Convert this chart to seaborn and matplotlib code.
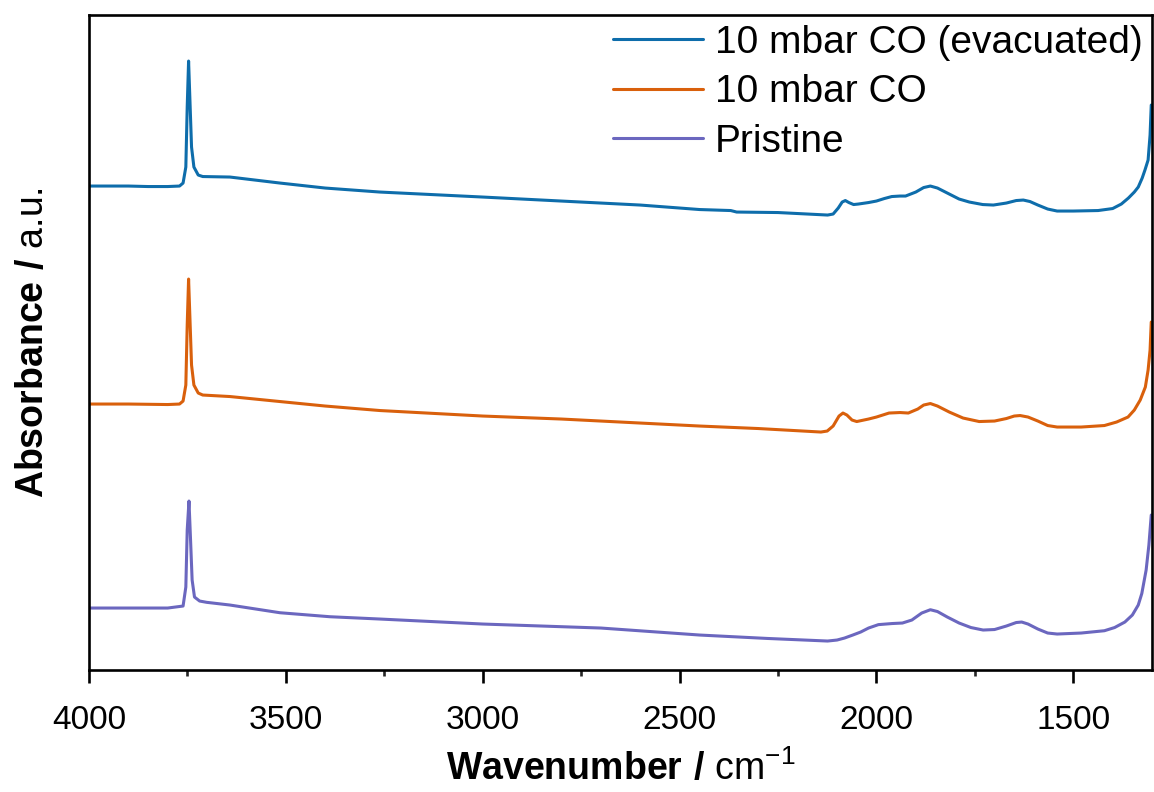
import matplotlib
matplotlib.use("Agg")
import matplotlib.pyplot as plt
import seaborn as sns
import pandas as pd
from matplotlib.ticker import MultipleLocator

# ---- data (absorbance in stacked a.u.) ----
wn_evac = [4000, 3900, 3850, 3800, 3770, 3761, 3754, 3750.5, 3747, 3743, 3739.5, 3733.5,
           3722.5, 3711, 3642, 3515, 3400, 3261, 3000, 2800, 2600, 2449, 2370, 2355, 2250,
           2124, 2110, 2097, 2087, 2079, 2070, 2058, 2046, 2020, 2000, 1980, 1961, 1940,
           1926, 1900, 1880, 1863, 1845, 1820, 1790, 1764, 1730, 1703, 1670, 1645, 1627,
           1610, 1590, 1565, 1541, 1500, 1437, 1400, 1378, 1360, 1345, 1335, 1325, 1318,
           1310, 1305, 1302]
ab_evac = [4.84, 4.84, 4.835, 4.835, 4.84, 4.87, 5.03, 5.63, 6.09, 5.63, 5.23, 5.03,
           4.95, 4.935, 4.93, 4.87, 4.82, 4.78, 4.73, 4.69, 4.65, 4.605, 4.595, 4.58, 4.575,
           4.55, 4.56, 4.62, 4.68, 4.695, 4.675, 4.655, 4.66, 4.675, 4.69, 4.715, 4.735, 4.74,
           4.74, 4.78, 4.825, 4.84, 4.82, 4.77, 4.71, 4.68, 4.655, 4.65, 4.67, 4.695, 4.70,
           4.685, 4.65, 4.61, 4.59, 4.59, 4.595, 4.615, 4.66, 4.72, 4.78, 4.83, 4.92, 5.00,
           5.10, 5.35, 5.65]

wn_co = [4000, 3900, 3800, 3770, 3761, 3754, 3750.5, 3747, 3743, 3739.5, 3733.5, 3722.5,
         3711, 3642, 3515, 3400, 3261, 3000, 2800, 2600, 2449, 2300, 2141, 2125, 2110, 2095,
         2085, 2075, 2062, 2050, 2020, 2000, 1968, 1940, 1919, 1895, 1880, 1863, 1845, 1815,
         1780, 1739, 1700, 1670, 1650, 1635, 1615, 1590, 1565, 1541, 1480, 1421, 1390, 1361,
         1345, 1330, 1317, 1310, 1305, 1302]
ab_co = [2.66, 2.66, 2.655, 2.66, 2.69, 2.85, 3.45, 3.91, 3.45, 3.05, 2.85, 2.77,
         2.75, 2.735, 2.685, 2.64, 2.595, 2.54, 2.51, 2.47, 2.44, 2.415, 2.38, 2.39, 2.44, 2.54,
         2.57, 2.55, 2.50, 2.485, 2.51, 2.53, 2.57, 2.575, 2.57, 2.61, 2.65, 2.665, 2.64, 2.58,
         2.52, 2.485, 2.49, 2.515, 2.54, 2.545, 2.53, 2.49, 2.445, 2.43, 2.43, 2.445, 2.48, 2.53,
         2.60, 2.70, 2.83, 3.00, 3.20, 3.48]

wn_pri = [4000, 3800, 3761, 3754, 3750.5, 3746, 3742, 3738, 3732, 3719, 3701, 3642, 3515,
          3388, 3261, 3000, 2700, 2449, 2278, 2124, 2100, 2081, 2060, 2040, 2020, 1995, 1960,
          1934, 1910, 1885, 1863, 1845, 1820, 1790, 1760, 1729, 1700, 1670, 1645, 1631, 1615,
          1590, 1565, 1541, 1480, 1421, 1395, 1369, 1350, 1335, 1326, 1315, 1308, 1302]
ab_pri = [0.62, 0.62, 0.64, 0.83, 1.40, 1.69, 1.30, 0.90, 0.73, 0.69, 0.677, 0.65, 0.573,
          0.533, 0.51, 0.46, 0.42, 0.35, 0.316, 0.29, 0.30, 0.32, 0.35, 0.38, 0.42, 0.454, 0.465,
          0.47, 0.50, 0.57, 0.603, 0.585, 0.53, 0.47, 0.425, 0.40, 0.405, 0.44, 0.475, 0.48, 0.46,
          0.41, 0.37, 0.36, 0.37, 0.393, 0.425, 0.48, 0.55, 0.65, 0.765, 1.00, 1.25, 1.55]

labels = ["10 mbar CO (evacuated)", "10 mbar CO", "Pristine"]
colors = ["#0e6dab", "#d9600c", "#6b67bf"]
xticks = [4000, 3500, 3000, 2500, 2000, 1500]

df = pd.concat([
    pd.DataFrame({"wn": wn_evac, "A": ab_evac, "sample": labels[0]}),
    pd.DataFrame({"wn": wn_co, "A": ab_co, "sample": labels[1]}),
    pd.DataFrame({"wn": wn_pri, "A": ab_pri, "sample": labels[2]}),
])

sns.set_theme(style="ticks")
plt.rcParams["font.family"] = ["Liberation Sans", "DejaVu Sans"]
plt.rcParams["mathtext.fontset"] = "custom"
plt.rcParams["mathtext.rm"] = "Liberation Sans"
plt.rcParams["mathtext.bf"] = "Liberation Sans:bold"
plt.rcParams["text.color"] = "black"
plt.rcParams["axes.labelcolor"] = "black"

fig = plt.figure(figsize=(11.54, 7.92), dpi=100)
ax = fig.add_axes([0.0771, 0.154, 0.9212, 0.827])

sns.lineplot(data=df, x="wn", y="A", hue="sample", hue_order=labels,
             palette=dict(zip(labels, colors)), linewidth=2.2, ax=ax, estimator=None,
             sort=False)

ax.set_xlim(4000, 1300)
ax.set_ylim(0, 6.55)
ax.set_xticks(xticks)
ax.set_xticklabels([str(t) for t in xticks])
ax.xaxis.set_minor_locator(MultipleLocator(250))
ax.set_yticks([])

for s in ax.spines.values():
    s.set_visible(True)
    s.set_linewidth(1.9)
    s.set_color("black")

ax.tick_params(axis="x", which="major", direction="out", length=9, width=1.9,
               labelsize=24, pad=16, colors="black")
ax.tick_params(axis="x", which="minor", direction="out", length=4.5, width=1.9)

ax.set_xlabel(r"$\mathbf{Wavenumber\ /}$ cm$^{-1}$", fontsize=27, labelpad=10)
ax.set_ylabel(r"$\mathbf{Absorbance\ /}$ a.u.", fontsize=27, labelpad=27)

leg = ax.legend(loc="upper right", frameon=False, fontsize=28, handlelength=2.3,
                handletextpad=0.3, labelspacing=0.35, borderaxespad=0.05, borderpad=0.2)
for h in leg.get_lines():
    h.set_linewidth(2.2)

fig.savefig("out.png", dpi=100)
